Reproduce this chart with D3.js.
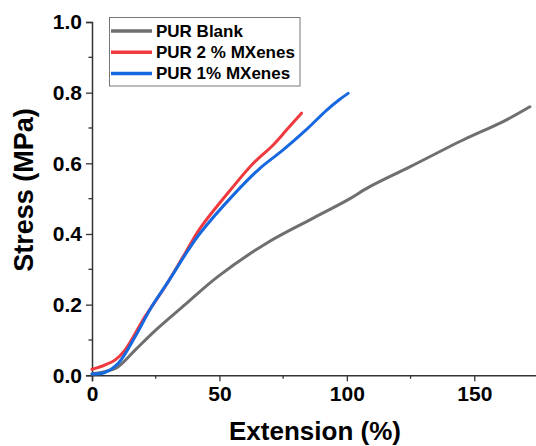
<!DOCTYPE html>
<html>
<head>
<meta charset="utf-8">
<script src="https://cdn.jsdelivr.net/npm/d3@7"></script>
<style>
body { margin: 0; background: #fff; }
text { font-family: Arial, "Liberation Sans", sans-serif; font-weight: bold; }
</style>
</head>
<body>
<script>
var w = 536, h = 446;

var seriesNames = ['PUR Blank', 'PUR 2 % MXenes', 'PUR 1% MXenes'];
var seriesColors = ['#6f6f6f', '#ee3a3e', '#1668e0'];

var blankX = [0, 5, 10, 17, 25, 36.5, 49.5, 68.5, 85.5, 100, 109, 124.7, 145.6, 161.3, 171.8];
var blankY = [0.004, 0.01, 0.023, 0.072, 0.128, 0.2, 0.28, 0.374, 0.44, 0.495, 0.534, 0.59, 0.666, 0.718, 0.76];

var mx2X = [0, 5, 9, 13, 20.8, 28.6, 36.5, 42.4, 55.4, 63.3, 71.1, 76.3, 82.2];
var mx2Y = [0.017, 0.029, 0.043, 0.072, 0.166, 0.25, 0.345, 0.416, 0.534, 0.6, 0.652, 0.694, 0.742];

var mx1X = [0, 5, 10.3, 16.9, 23.4, 29.9, 37.8, 42.4, 55.4, 65.9, 75, 84.2, 92, 97, 100.5];
var mx1Y = [0.004, 0.008, 0.034, 0.109, 0.194, 0.265, 0.355, 0.402, 0.51, 0.586, 0.638, 0.696, 0.75, 0.78, 0.798];

var xMajor = [0, 50, 100, 150];
var xMinor = [25, 75, 125];
var yMajor = [0, 0.2, 0.4, 0.6, 0.8, 1.0];
var yMinor = [0.1, 0.3, 0.5, 0.7, 0.9];

var x = d3.scaleLinear().domain([0, 175]).range([92, 538]);
var y = d3.scaleLinear().domain([0, 1]).range([375.3, 22]);

var svg = d3.select('body').append('svg')
    .attr('width', w)
    .attr('height', h);

// axes
var xAxis = svg.append('g')
    .attr('transform', 'translate(0,' + y(0) + ')')
    .call(d3.axisBottom(x).tickValues(xMajor).tickSize(6).tickPadding(5).tickFormat(d3.format('d')));
xAxis.append('g').selectAll('line')
    .data(xMinor).enter().append('line')
    .attr('x1', x).attr('x2', x)
    .attr('y1', 0).attr('y2', 3.5);

var yAxis = svg.append('g')
    .attr('transform', 'translate(' + x(0) + ',0)')
    .call(d3.axisLeft(y).tickValues(yMajor).tickSize(6).tickPadding(4).tickFormat(d3.format('.1f')));
yAxis.append('g').selectAll('line')
    .data(yMinor).enter().append('line')
    .attr('y1', y).attr('y2', y)
    .attr('x1', 0).attr('x2', -3.5);

svg.selectAll('.domain').attr('stroke', '#333').attr('stroke-width', 1.5);
svg.selectAll('.tick line').attr('stroke', '#333').attr('stroke-width', 1.3);
xAxis.selectAll('g > line').attr('stroke', '#333').attr('stroke-width', 1.3);
yAxis.selectAll('g > line').attr('stroke', '#333').attr('stroke-width', 1.3);
svg.selectAll('.tick text')
    .attr('font-size', 21)
    .attr('font-family', 'Arial, "Liberation Sans", sans-serif')
    .attr('font-weight', 'bold')
    .attr('fill', '#000');

// axis titles
svg.append('text')
    .attr('x', 315)
    .attr('y', 440)
    .attr('text-anchor', 'middle')
    .attr('font-size', 26)
    .text('Extension (%)');

svg.append('text')
    .attr('transform', 'translate(33,190)rotate(-90)')
    .attr('text-anchor', 'middle')
    .attr('font-size', 27)
    .text('Stress (MPa)');

// curves
var series = [
    { xs: blankX, ys: blankY },
    { xs: mx2X, ys: mx2Y },
    { xs: mx1X, ys: mx1Y }
];

var line = d3.line()
    .x(function(d) { return x(d[0]); })
    .y(function(d) { return y(d[1]); })
    .curve(d3.curveCatmullRom.alpha(0.5));

svg.selectAll('path.series')
    .data(series)
    .enter().append('path')
    .attr('class', 'series')
    .attr('fill', 'none')
    .attr('stroke', function(d, i) { return seriesColors[i]; })
    .attr('stroke-width', 3)
    .attr('stroke-linecap', 'round')
    .attr('d', function(d) { return line(d3.zip(d.xs, d.ys)); });

// legend
var legend = svg.append('g');
legend.append('rect')
    .attr('x', 109.5)
    .attr('y', 17.5)
    .attr('width', 190.5)
    .attr('height', 68.5)
    .attr('fill', '#fff')
    .attr('stroke', '#777')
    .attr('stroke-width', 1);

var item = legend.selectAll('g.item')
    .data(seriesNames)
    .enter().append('g')
    .attr('class', 'item')
    .attr('transform', function(d, i) { return 'translate(0,' + (31 + i * 21.2) + ')'; });

item.append('line')
    .attr('x1', 111).attr('x2', 152)
    .attr('y1', 0).attr('y2', 0)
    .attr('stroke', function(d, i) { return seriesColors[i]; })
    .attr('stroke-width', 3.5);

item.append('text')
    .attr('x', 156)
    .attr('y', 6)
    .attr('font-size', 17)
    .text(function(d) { return d; });
</script>
</body>
</html>
